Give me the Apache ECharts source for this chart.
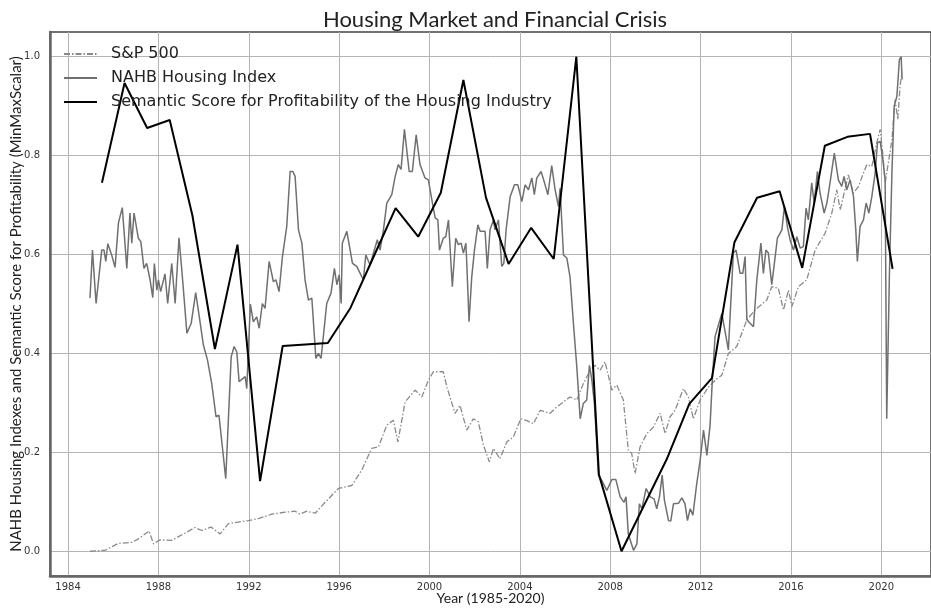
<!DOCTYPE html>
<html>
<head>
<meta charset="utf-8">
<script src="https://cdn.jsdelivr.net/npm/echarts@6/dist/echarts.min.js"></script>
<style>
  html, body { margin: 0; padding: 0; background: #fff; }
  #chart { width: 931px; height: 609px; }
</style>
</head>
<body>
<div id="chart"></div>
<script>
// tick labels
const xTicks = [1984, 1988, 1992, 1996, 2000, 2004, 2008, 2012, 2016, 2020]
const yTicks = [0, 0.2, 0.4, 0.6, 0.8, 1.0]

// semantic score, one point per year (mid-year)
const semanticYears = [1985.5, 1986.5, 1987.5, 1988.5, 1989.5, 1990.5, 1991.5, 1992.5, 1993.5, 1994.5,
  1995.5, 1996.5, 1997.5, 1998.5, 1999.5, 2000.5, 2001.5, 2002.5, 2003.5, 2004.5, 2005.5, 2006.5,
  2007.5, 2008.5, 2009.5, 2010.5, 2011.5, 2012.5, 2013.5, 2014.5, 2015.5, 2016.5, 2017.5, 2018.5,
  2019.5, 2020.5]
const semanticScores = [0.745, 0.947, 0.856, 0.872, 0.680, 0.409, 0.620, 0.142, 0.415, 0.418,
  0.421, 0.492, 0.593, 0.694, 0.636, 0.725, 0.953, 0.715, 0.581, 0.654, 0.591, 1.000,
  0.155, 0.000, 0.093, 0.186, 0.298, 0.350, 0.625, 0.715, 0.728, 0.573, 0.820, 0.838,
  0.844, 0.571]

// NAHB housing index (scaled)
const nahbYears = [1984.97, 1985.08, 1985.24, 1985.49, 1985.59, 1985.67, 1985.76, 1985.93, 1986.08, 1986.23,
  1986.40, 1986.60, 1986.74, 1986.82, 1986.92, 1987.11, 1987.22, 1987.36, 1987.48, 1987.63,
  1987.75, 1987.82, 1987.93, 1988.00, 1988.10, 1988.29, 1988.41, 1988.59, 1988.74, 1988.91,
  1989.06, 1989.26, 1989.45, 1989.65, 1989.81, 1989.99, 1990.17, 1990.36, 1990.55, 1990.68,
  1990.98, 1991.22, 1991.35, 1991.47, 1991.57, 1991.84, 1991.91, 1992.07, 1992.20, 1992.35,
  1992.46, 1992.60, 1992.72, 1992.90, 1993.09, 1993.20, 1993.34, 1993.49, 1993.68, 1993.83,
  1993.95, 1994.05, 1994.20, 1994.35, 1994.49, 1994.64, 1994.79, 1994.97, 1995.08, 1995.20,
  1995.45, 1995.64, 1995.79, 1995.90, 1996.00, 1996.09, 1996.14, 1996.34, 1996.59, 1996.78,
  1996.93, 1997.07, 1997.18, 1997.37, 1997.52, 1997.69, 1997.81, 1997.96, 1998.11, 1998.33,
  1998.48, 1998.62, 1998.74, 1998.89, 1999.10, 1999.24, 1999.41, 1999.58, 1999.80, 1999.95,
  2000.13, 2000.25, 2000.37, 2000.44, 2000.61, 2000.72, 2000.84, 2001.01, 2001.16, 2001.28,
  2001.40, 2001.50, 2001.61, 2001.65, 2001.75, 2001.87, 2001.99, 2002.14, 2002.24, 2002.46,
  2002.56, 2002.68, 2002.83, 2002.90, 2003.05, 2003.20, 2003.29, 2003.39, 2003.57, 2003.76,
  2003.91, 2004.09, 2004.23, 2004.38, 2004.53, 2004.64, 2004.75, 2004.94, 2005.09, 2005.24,
  2005.41, 2005.56, 2005.71, 2005.78, 2005.93, 2006.08, 2006.22, 2006.37, 2006.52, 2006.67,
  2006.81, 2006.96, 2007.08, 2007.18, 2007.30, 2007.48, 2007.63, 2007.85, 2008.07, 2008.25,
  2008.44, 2008.61, 2008.70, 2008.80, 2009.03, 2009.18, 2009.29, 2009.40, 2009.59, 2009.77,
  2009.94, 2010.06, 2010.18, 2010.30, 2010.40, 2010.58, 2010.68, 2010.80, 2011.02, 2011.17,
  2011.31, 2011.42, 2011.54, 2011.66, 2011.83, 2011.98, 2012.13, 2012.28, 2012.42, 2012.52,
  2012.64, 2012.94, 2013.23, 2013.45, 2013.57, 2013.75, 2013.87, 2013.97, 2014.05, 2014.19,
  2014.34, 2014.49, 2014.67, 2014.78, 2014.89, 2015.00, 2015.15, 2015.25, 2015.40, 2015.60,
  2015.71, 2015.84, 2015.96, 2016.11, 2016.26, 2016.41, 2016.55, 2016.67, 2016.77, 2016.92,
  2017.03, 2017.17, 2017.29, 2017.47, 2017.59, 2017.73, 2017.92, 2018.10, 2018.25, 2018.35,
  2018.47, 2018.62, 2018.77, 2018.87, 2018.94, 2019.06, 2019.21, 2019.33, 2019.45, 2019.58,
  2019.73, 2019.83, 2019.95, 2020.07, 2020.17, 2020.24, 2020.36, 2020.47, 2020.57, 2020.69,
  2020.80, 2020.88, 2020.92]
const nahbValues = [0.512, 0.609, 0.501, 0.609, 0.609, 0.586, 0.622, 0.599, 0.574, 0.664,
  0.695, 0.572, 0.684, 0.623, 0.684, 0.633, 0.626, 0.572, 0.582, 0.549,
  0.513, 0.582, 0.528, 0.549, 0.525, 0.561, 0.501, 0.582, 0.501, 0.634,
  0.555, 0.441, 0.461, 0.523, 0.474, 0.417, 0.387, 0.339, 0.272, 0.275,
  0.147, 0.393, 0.414, 0.403, 0.343, 0.353, 0.329, 0.500, 0.464, 0.474,
  0.451, 0.501, 0.491, 0.586, 0.545, 0.549, 0.525, 0.596, 0.657, 0.768,
  0.768, 0.758, 0.650, 0.623, 0.549, 0.508, 0.512, 0.390, 0.400, 0.390,
  0.501, 0.522, 0.572, 0.539, 0.559, 0.501, 0.623, 0.647, 0.582, 0.576,
  0.562, 0.549, 0.599, 0.579, 0.603, 0.630, 0.609, 0.650, 0.704, 0.721,
  0.758, 0.782, 0.772, 0.853, 0.768, 0.768, 0.842, 0.782, 0.755, 0.751,
  0.704, 0.674, 0.670, 0.609, 0.633, 0.636, 0.670, 0.535, 0.633, 0.620,
  0.623, 0.603, 0.623, 0.582, 0.464, 0.555, 0.609, 0.660, 0.647, 0.647,
  0.572, 0.650, 0.670, 0.650, 0.670, 0.576, 0.582, 0.650, 0.717, 0.741,
  0.741, 0.707, 0.741, 0.731, 0.755, 0.721, 0.755, 0.768, 0.745, 0.721,
  0.780, 0.731, 0.697, 0.734, 0.599, 0.593, 0.555, 0.461, 0.373, 0.268,
  0.299, 0.306, 0.376, 0.349, 0.299, 0.154, 0.143, 0.123, 0.145, 0.145,
  0.110, 0.099, 0.110, 0.035, 0.002, 0.015, 0.096, 0.086, 0.127, 0.110,
  0.106, 0.086, 0.110, 0.154, 0.103, 0.062, 0.061, 0.096, 0.097, 0.108,
  0.096, 0.062, 0.086, 0.073, 0.137, 0.184, 0.245, 0.194, 0.255, 0.346,
  0.434, 0.481, 0.407, 0.603, 0.609, 0.562, 0.562, 0.596, 0.468, 0.461,
  0.454, 0.549, 0.623, 0.562, 0.609, 0.603, 0.539, 0.576, 0.633, 0.650,
  0.697, 0.657, 0.630, 0.609, 0.636, 0.613, 0.616, 0.694, 0.670, 0.745,
  0.704, 0.768, 0.724, 0.684, 0.704, 0.745, 0.805, 0.751, 0.738, 0.758,
  0.731, 0.751, 0.717, 0.650, 0.586, 0.657, 0.670, 0.704, 0.684, 0.717,
  0.765, 0.826, 0.829, 0.792, 0.751, 0.268, 0.562, 0.765, 0.900, 0.920,
  0.994, 1.000, 0.954]

// S&P 500 (scaled)
const spYears = [1984.97, 1985.64, 1986.23, 1986.82, 1987.11, 1987.59, 1987.78, 1988.07, 1988.59, 1989.18,
  1989.62, 1989.92, 1990.33, 1990.73, 1991.10, 1991.54, 1991.98, 1992.42, 1993.02, 1993.61,
  1994.05, 1994.27, 1994.57, 1994.94, 1995.38, 1995.97, 1996.56, 1997.00, 1997.44, 1997.74,
  1998.11, 1998.40, 1998.60, 1998.92, 1999.36, 1999.66, 1999.95, 2000.17, 2000.61, 2000.77,
  2001.13, 2001.35, 2001.65, 2001.94, 2002.16, 2002.39, 2002.65, 2002.83, 2003.12, 2003.42,
  2003.71, 2004.04, 2004.31, 2004.60, 2004.90, 2005.34, 2005.64, 2006.22, 2006.52, 2006.81,
  2007.11, 2007.33, 2007.55, 2007.77, 2008.07, 2008.29, 2008.58, 2008.80, 2008.95, 2009.10,
  2009.32, 2009.62, 2009.91, 2010.21, 2010.43, 2010.65, 2010.87, 2011.24, 2011.46, 2011.68,
  2011.98, 2012.35, 2012.72, 2012.94, 2013.23, 2013.60, 2014.05, 2014.41, 2014.93, 2015.15,
  2015.44, 2015.67, 2015.89, 2016.04, 2016.33, 2016.70, 2017.07, 2017.51, 2017.81, 2018.03,
  2018.18, 2018.54, 2018.77, 2018.99, 2019.21, 2019.36, 2019.58, 2019.80, 2019.95, 2020.07,
  2020.17, 2020.31, 2020.47, 2020.61, 2020.73, 2020.83, 2020.91]
const spValues = [0.000, 0.002, 0.016, 0.018, 0.025, 0.041, 0.015, 0.023, 0.022, 0.037,
  0.048, 0.042, 0.049, 0.035, 0.056, 0.059, 0.062, 0.066, 0.075, 0.079,
  0.081, 0.075, 0.081, 0.077, 0.099, 0.127, 0.133, 0.164, 0.208, 0.211,
  0.255, 0.265, 0.221, 0.302, 0.326, 0.312, 0.346, 0.363, 0.363, 0.332,
  0.279, 0.295, 0.245, 0.268, 0.262, 0.214, 0.181, 0.208, 0.187, 0.221,
  0.231, 0.268, 0.264, 0.258, 0.285, 0.279, 0.292, 0.312, 0.306, 0.339,
  0.366, 0.376, 0.366, 0.383, 0.326, 0.336, 0.306, 0.204, 0.198, 0.157,
  0.211, 0.238, 0.251, 0.279, 0.238, 0.272, 0.285, 0.329, 0.312, 0.268,
  0.306, 0.332, 0.349, 0.356, 0.400, 0.414, 0.468, 0.488, 0.508, 0.535,
  0.532, 0.488, 0.528, 0.495, 0.535, 0.549, 0.609, 0.643, 0.684, 0.731,
  0.690, 0.761, 0.724, 0.738, 0.765, 0.782, 0.778, 0.826, 0.853, 0.802,
  0.745, 0.785, 0.832, 0.913, 0.873, 0.940, 0.968]

const zip = (xs, ys) => xs.map((x, i) => [x, ys[i]])

let chart = echarts.init(document.getElementById('chart'))
let option = {
  backgroundColor: '#fff',
  animation: false,
  title: {
    text: 'Housing Market and Financial Crisis',
    left: 490,
    textAlign: 'center',
    top: 4,
    textStyle: { fontFamily: 'Lato', fontWeight: 'normal', fontSize: 22, color: '#222' }
  },
  legend: {
    orient: 'vertical',
    left: 58,
    top: 41,
    itemWidth: 33,
    itemHeight: 14,
    itemGap: 8,
    itemStyle: { opacity: 0 },
    textStyle: { fontFamily: 'DejaVu Sans', fontSize: 16, color: '#222', padding: [0, 0, 0, 9] },
    data: ['S&P 500', 'NAHB Housing Index', 'Semantic Score for Profitability of the Housing Industry']
  },
  grid: {
    left: 50, right: 0, top: 32, bottom: 33,
    outerBoundsMode: 'none',
    show: true, borderColor: '#444', borderWidth: 1.5
  },
  xAxis: {
    type: 'value',
    min: 1983.2,
    max: 2022.2,
    name: 'Year (1985-2020)',
    nameLocation: 'middle',
    nameMoveOverlap: false,
    nameGap: 15,
    nameTextStyle: { fontFamily: 'Lato', fontSize: 14, color: '#222' },
    axisLine: { show: true, onZero: false, lineStyle: { color: '#666', width: 2.5 } },
    axisTick: { show: false, customValues: xTicks },
    axisLabel: { customValues: xTicks, formatter: v => String(v), fontFamily: 'DejaVu Sans', fontSize: 10, color: '#333', margin: 6 },
    splitLine: { show: true, lineStyle: { color: '#b4b4b4', width: 1 } }
  },
  yAxis: {
    type: 'value',
    min: -0.05,
    max: 1.05,
    name: 'NAHB Housing Indexes and Semantic Score for Profitability (MinMaxScalar)',
    nameLocation: 'middle',
    nameMoveOverlap: false,
    nameGap: 26,
    nameTextStyle: { fontFamily: 'Lato', fontSize: 15, color: '#222' },
    axisLine: { show: true, onZero: false, lineStyle: { color: '#666', width: 2.5 } },
    axisTick: { show: false, customValues: yTicks },
    axisLabel: { customValues: yTicks, formatter: v => v.toFixed(1), fontFamily: 'DejaVu Sans', fontSize: 10, color: '#333', margin: 10 },
    splitLine: { show: true, lineStyle: { color: '#b4b4b4', width: 1 } }
  },
  series: [
    {
      name: 'S&P 500',
      type: 'line',
      symbol: 'none',
      data: zip(spYears, spValues),
      lineStyle: { color: '#8a8a8a', width: 1.3, type: [6, 2, 1.5, 2] },
      itemStyle: { color: '#8a8a8a' }
    },
    {
      name: 'NAHB Housing Index',
      type: 'line',
      symbol: 'none',
      data: zip(nahbYears, nahbValues),
      lineStyle: { color: '#707070', width: 1.5 },
      itemStyle: { color: '#707070' }
    },
    {
      name: 'Semantic Score for Profitability of the Housing Industry',
      type: 'line',
      symbol: 'none',
      data: zip(semanticYears, semanticScores),
      lineStyle: { color: '#000', width: 2 },
      itemStyle: { color: '#000' }
    }
  ]
}
chart.setOption(option)
</script>
</body>
</html>
